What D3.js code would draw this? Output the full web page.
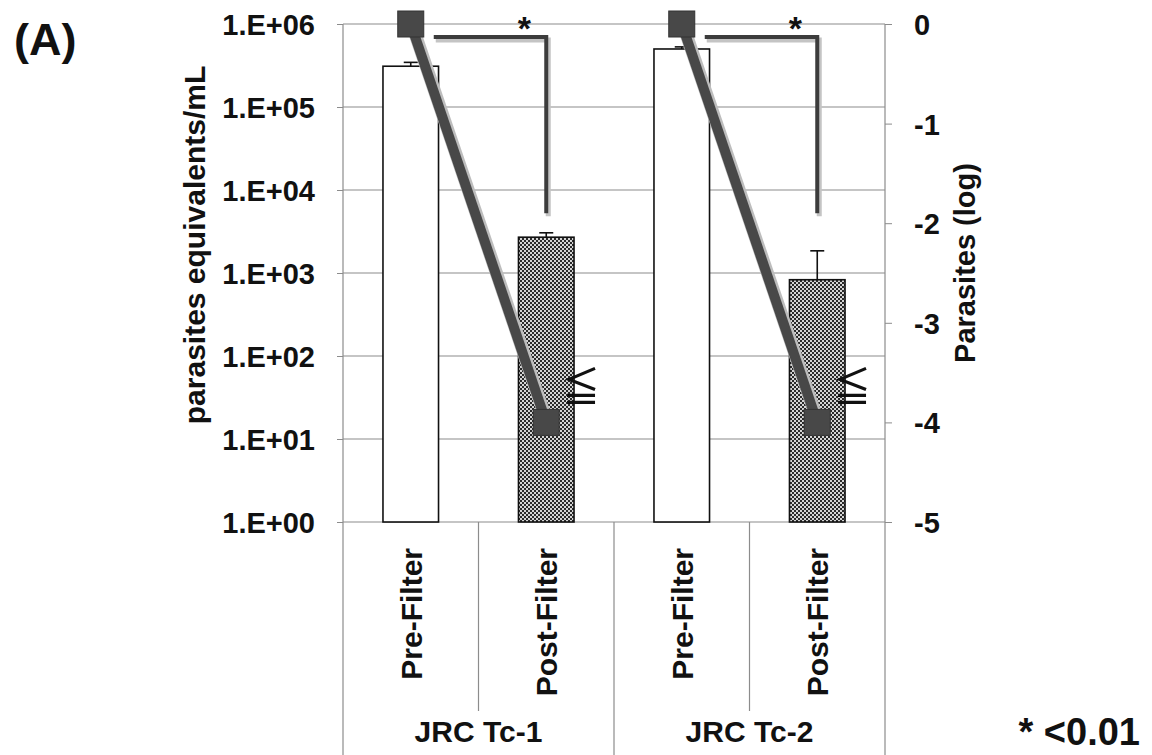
<!DOCTYPE html>
<html>
<head>
<meta charset="utf-8">
<script src="https://cdn.jsdelivr.net/npm/d3@7"></script>
<style>
  body { margin: 0; background: #fff; }
  text { font-family: "Liberation Sans", Arial, sans-serif; font-weight: bold; fill: #111; }
</style>
</head>
<body>
<div id="chart"></div>
<script>
// values
const groups = ["JRC Tc-1", "JRC Tc-2"];
const stages = ["Pre-Filter", "Post-Filter"];
const parasiteEq = [3.1e5, 2.7e3, 5.0e5, 8.3e2];      // parasites equivalents/mL
const parasiteEqTop = [3.45e5, 3.05e3, 5.3e5, 1.85e3]; // upper end of error bar
const logParasites = [0, -4, 0, -4];                   // right axis
const leftTicks = [1, 10, 100, 1e3, 1e4, 1e5, 1e6];
const rightTicks = [0, -1, -2, -3, -4, -5];
const bracketBottom = -1.9;
const pNote = "* <0.01";

const width = 1152, height = 755;
const plot = { left: 343, right: 885, top: 24, bottom: 522 };

const bars = [];
groups.forEach((g, gi) => stages.forEach((s, si) => {
  const i = gi * stages.length + si;
  bars.push({ id: g + "|" + s, group: g, stage: s, value: parasiteEq[i], top: parasiteEqTop[i], log: logParasites[i] });
}));

const svg = d3.select("#chart").append("svg")
  .attr("width", width)
  .attr("height", height);

const defs = svg.append("defs");
const pat = defs.append("pattern")
  .attr("id", "checker")
  .attr("width", 4).attr("height", 4)
  .attr("patternUnits", "userSpaceOnUse");
pat.append("rect").attr("width", 4).attr("height", 4).attr("fill", "#d4d4d4");
pat.append("rect").attr("width", 2).attr("height", 2).attr("fill", "#2a2a2a");
pat.append("rect").attr("x", 2).attr("y", 2).attr("width", 2).attr("height", 2).attr("fill", "#2a2a2a");

const x = d3.scaleBand()
  .domain(bars.map(d => d.id))
  .range([plot.left, plot.right]);
const xGroup = d3.scaleBand()
  .domain(groups)
  .range([plot.left, plot.right]);
const yL = d3.scaleLog().domain([1, 1e6]).range([plot.bottom, plot.top]);
const yR = d3.scaleLinear().domain([-5, 0]).range([plot.bottom, plot.top]);

const bw = x.bandwidth() * 0.41;
const cx = d => x(d.id) + x.bandwidth() / 2;

// gridlines
svg.append("g")
  .selectAll("line")
  .data(leftTicks)
  .join("line")
  .attr("x1", plot.left).attr("x2", plot.right)
  .attr("y1", d => yL(d)).attr("y2", d => yL(d))
  .attr("stroke", "#8c8c8c").attr("stroke-width", 1.2);

// left axis
const axL = svg.append("g")
  .attr("transform", `translate(${plot.left},0)`)
  .call(d3.axisLeft(yL).tickValues(leftTicks).tickSize(6).tickPadding(22)
    .tickFormat(d => "1.E+" + String(Math.round(Math.log10(d))).padStart(2, "0")));
axL.select(".domain").remove();
axL.selectAll(".tick line").attr("stroke", "#8c8c8c");
axL.selectAll(".tick text").style("font-size", "29px").attr("fill", "#111").attr("dy", "0.36em");

// right axis
const axR = svg.append("g")
  .attr("transform", `translate(${plot.right},0)`)
  .call(d3.axisRight(yR).tickValues(rightTicks).tickSize(7).tickPadding(22).tickFormat(d3.format("d")));
axR.select(".domain").remove();
axR.selectAll(".tick line").attr("stroke", "#8c8c8c");
axR.selectAll(".tick text").style("font-size", "29px").attr("fill", "#111").attr("dy", "0.36em")
  .text(d => d === 0 ? "0" : "-" + Math.abs(d));

// frame lines: axes and category separators
const vlines = [
  { x: plot.left, y1: plot.top, y2: height },
  { x: plot.right, y1: plot.top, y2: height },
  { x: xGroup(groups[1]), y1: plot.bottom, y2: height }
];
groups.forEach(g => vlines.push({ x: x(g + "|" + stages[1]), y1: plot.bottom, y2: 711 }));
svg.append("g")
  .selectAll("line")
  .data(vlines)
  .join("line")
  .attr("x1", d => d.x).attr("x2", d => d.x)
  .attr("y1", d => d.y1).attr("y2", d => d.y2)
  .attr("stroke", "#8c8c8c").attr("stroke-width", 1.2);

// bars
svg.append("g")
  .selectAll("rect")
  .data(bars)
  .join("rect")
  .attr("x", d => cx(d) - bw / 2)
  .attr("width", bw)
  .attr("y", d => yL(d.value))
  .attr("height", d => yL(1) - yL(d.value))
  .attr("fill", d => d.stage === "Pre-Filter" ? "#fff" : "url(#checker)")
  .attr("stroke", "#111")
  .attr("stroke-width", 1.6);

// error bars
const eb = svg.append("g").attr("stroke", "#111").attr("stroke-width", 1.6);
eb.selectAll("line.v")
  .data(bars)
  .join("line")
  .attr("class", "v")
  .attr("x1", cx).attr("x2", cx)
  .attr("y1", d => yL(d.value)).attr("y2", d => yL(d.top));
eb.selectAll("line.c")
  .data(bars)
  .join("line")
  .attr("class", "c")
  .attr("x1", d => cx(d) - 7).attr("x2", d => cx(d) + 7)
  .attr("y1", d => yL(d.top)).attr("y2", d => yL(d.top));

// significance brackets
const pairs = groups.map(g => bars.filter(d => d.group === g));
const bracketPath = p => {
  const xa = cx(p[0]) + 23, xb = cx(p[1]), yt = yR(0) + 13;
  return `M${xa},${yt}H${xb}V${yR(bracketBottom)}`;
};
svg.append("g")
  .selectAll("path")
  .data(pairs)
  .join("path")
  .attr("d", bracketPath)
  .attr("transform", "translate(2,3)")
  .attr("fill", "none").attr("stroke", "#c4c4c4").attr("stroke-width", 5);
svg.append("g")
  .selectAll("path")
  .data(pairs)
  .join("path")
  .attr("d", bracketPath)
  .attr("fill", "none").attr("stroke", "#3c3c3c").attr("stroke-width", 4);
svg.append("g")
  .selectAll("text")
  .data(pairs)
  .join("text")
  .attr("x", p => cx(p[1]) - 22)
  .attr("y", yR(0) + 16)
  .attr("text-anchor", "middle")
  .style("font-size", "34px")
  .text("*");

// log-parasite line with square markers
const line = d3.line().x(cx).y(d => yR(d.log));
svg.append("g")
  .selectAll("path")
  .data(pairs)
  .join("path")
  .attr("d", line)
  .attr("transform", "translate(2,3)")
  .attr("fill", "none").attr("stroke", "#bdbdbd").attr("stroke-width", 13);
svg.append("g")
  .selectAll("path")
  .data(pairs)
  .join("path")
  .attr("d", line)
  .attr("fill", "none").attr("stroke", "#484848").attr("stroke-width", 10);
const ms = 26;
svg.append("g")
  .selectAll("rect")
  .data(bars)
  .join("rect")
  .attr("x", d => cx(d) - ms / 2)
  .attr("y", d => yR(d.log) - ms / 2)
  .attr("width", ms).attr("height", ms)
  .attr("fill", "#484848").attr("stroke", "#333").attr("stroke-width", 1);

// "≦" marks beside the post-filter markers
const post = bars.filter(d => d.stage === "Post-Filter");
const mk = svg.append("g").attr("stroke", "#111").attr("stroke-width", 3.2).attr("fill", "none");
mk.selectAll("path")
  .data(post)
  .join("path")
  .attr("d", d => {
    const x0 = cx(d) + bw / 2 - 7, y0 = yR(d.log);
    return `M${x0 + 28},${y0 - 54}L${x0 + 2},${y0 - 43}L${x0 + 28},${y0 - 33}` +
           `M${x0},${y0 - 27}H${x0 + 28}M${x0},${y0 - 20}H${x0 + 28}`;
  });

// category labels
svg.append("g")
  .selectAll("text")
  .data(bars)
  .join("text")
  .attr("transform", d => `translate(${cx(d) + 11},${plot.bottom + 26}) rotate(-90)`)
  .attr("text-anchor", "end")
  .style("font-size", "30px")
  .text(d => d.stage);
svg.append("g")
  .selectAll("text")
  .data(groups)
  .join("text")
  .attr("x", g => xGroup(g) + xGroup.bandwidth() / 2)
  .attr("y", 742)
  .attr("text-anchor", "middle")
  .style("font-size", "30px")
  .text(g => g);

// axis titles
svg.append("text")
  .attr("transform", `translate(205,${(plot.top + plot.bottom) / 2 - 28}) rotate(-90)`)
  .attr("text-anchor", "middle")
  .style("font-size", "30px")
  .text("parasites equivalents/mL");
svg.append("text")
  .attr("transform", `translate(975,${(plot.top + plot.bottom) / 2 - 10}) rotate(-90)`)
  .attr("text-anchor", "middle")
  .style("font-size", "29px")
  .text("Parasites (log)");

// panel tag and p-value note
svg.append("text")
  .attr("x", 14).attr("y", 55)
  .style("font-size", "45px")
  .attr("fill", "#444")
  .text("(A)");
svg.append("text")
  .attr("x", 1140).attr("y", 745)
  .attr("text-anchor", "end")
  .style("font-size", "38px")
  .text(pNote);
</script>
</body>
</html>
